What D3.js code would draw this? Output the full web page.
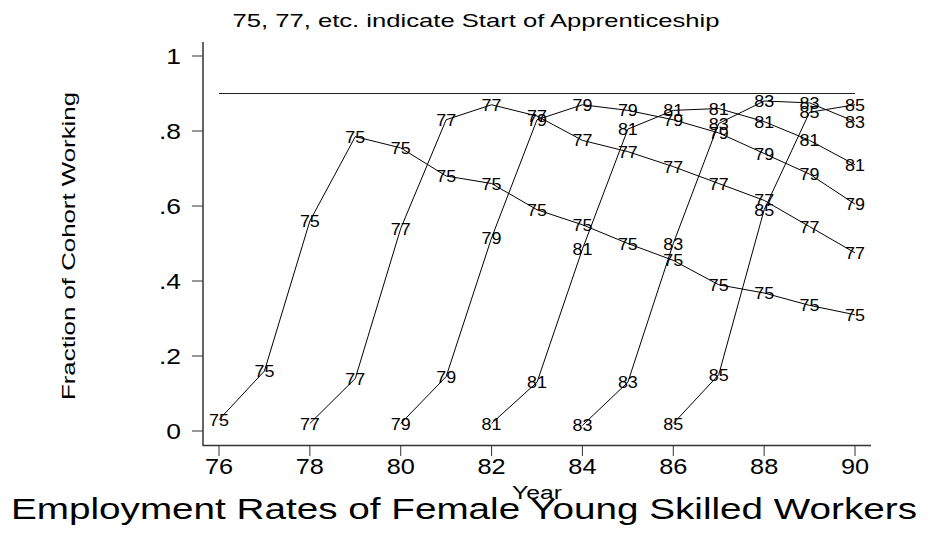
<!DOCTYPE html>
<html>
<head>
	<script src="https://cdn.jsdelivr.net/npm/d3@7"></script>
	<style>
		html, body {
			padding: 0;
			margin: 0;
			background: white;
		}
		text {
			font-family: "Liberation Sans", Arial, sans-serif;
			fill: black;
		}
	</style>
</head>
<body>
	<script>
		var width = 929;
		var height = 534;

		// ~ ~ ~ DATA ~ ~ ~
		const COHORTS = [75, 77, 79, 81, 83, 85];
		// fraction working, one array per cohort, starting the year after apprenticeship
		const RATE_75 = [0.03, 0.16, 0.56, 0.785, 0.755, 0.68, 0.66, 0.59, 0.55, 0.50, 0.455, 0.39, 0.368, 0.335, 0.31];
		const RATE_77 = [0.02, 0.14, 0.54, 0.83, 0.87, 0.84, 0.775, 0.745, 0.705, 0.66, 0.615, 0.545, 0.475];
		const RATE_79 = [0.02, 0.145, 0.515, 0.83, 0.87, 0.855, 0.83, 0.795, 0.74, 0.685, 0.605];
		const RATE_81 = [0.02, 0.13, 0.485, 0.805, 0.855, 0.86, 0.825, 0.775, 0.71];
		const RATE_83 = [0.015, 0.13, 0.50, 0.82, 0.88, 0.875, 0.825];
		const RATE_85 = [0.02, 0.15, 0.59, 0.85, 0.87];
		const RATES = [RATE_75, RATE_77, RATE_79, RATE_81, RATE_83, RATE_85];
		const REF_LEVEL = 0.9;
		const X_TICKS = [76, 78, 80, 82, 84, 86, 88, 90];
		const Y_TICKS = [0, 0.2, 0.4, 0.6, 0.8, 1];
		const Y_TICK_LABELS = ["0", ".2", ".4", ".6", ".8", "1"];

		var svg = d3.select('body').append('svg')
			.attr('width', width)
			.attr('height', height);

		var x = d3.scaleLinear().domain([76, 90]).range([219, 855]);
		var y = d3.scaleLinear().domain([0, 1]).range([431, 56]);

		var axisColor = "#333";

		// text drawn a bit wider than the font, like the original export
		var wideText = function(parent, px, py, sx, size, anchor, str) {
			return parent.append("text")
				.attr("transform", "translate(" + px + "," + py + ") scale(" + sx + ",1)")
				.attr("text-anchor", anchor)
				.style("font-size", size + "px")
				.text(str);
		};

		// axis lines
		svg.append("line")
			.attr("x1", 203).attr("x2", 203)
			.attr("y1", 42).attr("y2", 445.5)
			.attr("stroke", axisColor).attr("stroke-width", 1.5);
		svg.append("line")
			.attr("x1", 202.5).attr("x2", 871)
			.attr("y1", 445.5).attr("y2", 445.5)
			.attr("stroke", axisColor).attr("stroke-width", 1.5);

		// y ticks
		var yAxis = svg.append("g");
		Y_TICKS.forEach(function(t, i) {
			yAxis.append("line")
				.attr("x1", 192).attr("x2", 203)
				.attr("y1", y(t)).attr("y2", y(t))
				.attr("stroke", axisColor).attr("stroke-width", 1);
			wideText(yAxis, 181, y(t) + 8, 1.2, 22, "end", Y_TICK_LABELS[i]);
		});

		// x ticks
		var xAxis = svg.append("g");
		X_TICKS.forEach(function(t) {
			xAxis.append("line")
				.attr("x1", x(t)).attr("x2", x(t))
				.attr("y1", 445).attr("y2", 456)
				.attr("stroke", axisColor).attr("stroke-width", 1);
			wideText(xAxis, x(t), 474, 1.15, 22, "middle", t);
		});

		// reference line
		svg.append("line")
			.attr("x1", x(76)).attr("x2", x(90))
			.attr("y1", y(REF_LEVEL)).attr("y2", y(REF_LEVEL))
			.attr("stroke", "#222").attr("stroke-width", 1);

		// cohort lines with labels
		var line = d3.line()
			.x(function(d) { return x(d.year); })
			.y(function(d) { return y(d.rate); });

		COHORTS.forEach(function(c, i) {
			var pts = RATES[i].map(function(r, j) {
				return { year: c + 1 + j, rate: r };
			});
			svg.append("path")
				.attr("d", line(pts))
				.attr("fill", "none")
				.attr("stroke", "black")
				.attr("stroke-width", 1);
			var g = svg.append("g");
			pts.forEach(function(d) {
				wideText(g, x(d.year), y(d.rate) + 6, 1.12, 16, "middle", c);
			});
		});

		// titles
		svg.append("text")
			.attr("x", 476).attr("y", 27)
			.attr("text-anchor", "middle")
			.attr("textLength", 487)
			.attr("lengthAdjust", "spacingAndGlyphs")
			.style("font-size", "19px")
			.text("75, 77, etc. indicate Start of Apprenticeship");

		svg.append("text")
			.attr("transform", "translate(75,246) rotate(-90)")
			.attr("text-anchor", "middle")
			.attr("textLength", 308)
			.attr("lengthAdjust", "spacingAndGlyphs")
			.style("font-size", "19px")
			.text("Fraction of Cohort Working");

		wideText(svg, x(83), 499, 1.3, 19, "middle", "Year");

		svg.append("text")
			.attr("x", 464).attr("y", 519)
			.attr("text-anchor", "middle")
			.attr("textLength", 906)
			.attr("lengthAdjust", "spacingAndGlyphs")
			.style("font-size", "30px")
			.text("Employment Rates of Female Young Skilled Workers");
	</script>
</body>
</html>
